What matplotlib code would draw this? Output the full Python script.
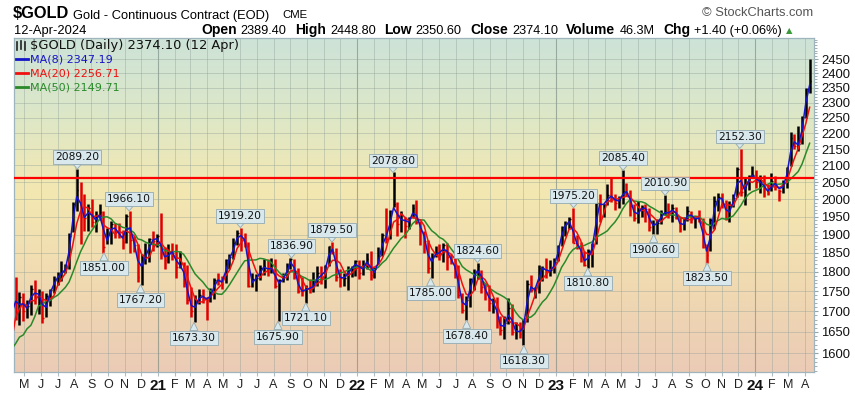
import numpy as np
import pandas as pd
import matplotlib
matplotlib.use("Agg")
import matplotlib.pyplot as plt
from matplotlib.colors import LinearSegmentedColormap
from matplotlib.lines import Line2D

# weekly bars (weeks ending Friday)
# 2020-02-07 .. 2020-12-25
high_2020 = [1580, 1588, 1653, 1691, 1690, 1704, 1560, 1690, 1650, 1753, 1788, 1748,
             1747, 1727, 1765, 1779, 1757, 1752, 1745, 1756, 1789, 1801, 1829, 1822,
             1905, 1993, 2089.2, 2049, 2015, 1986, 2001, 1966, 1985, 1965, 1917, 1937,
             1933, 1933, 1914, 1958, 1966.1, 1897, 1875, 1847, 1878, 1891, 1910]
low_2020 = [1551, 1562, 1583, 1563, 1574, 1504, 1451, 1482, 1576, 1643, 1680, 1666,
            1676, 1683, 1691, 1718, 1693, 1671, 1685, 1712, 1747, 1765, 1776, 1797,
            1808, 1906, 1966, 1874, 1911, 1911, 1921, 1906, 1940, 1851, 1873, 1874,
            1891, 1890, 1860, 1876, 1850, 1852, 1775, 1767.2, 1820, 1826, 1854]
close_2020 = [1573, 1584, 1649, 1566, 1672, 1529, 1484, 1654, 1637, 1752, 1698, 1736,
              1701, 1714, 1756, 1735, 1751, 1683, 1737, 1753, 1781, 1790, 1801, 1811,
              1897, 1986, 2028, 1949, 1947, 1975, 1934, 1947, 1962, 1866, 1900, 1930,
              1906, 1902, 1879, 1951, 1886, 1872, 1788, 1840, 1840, 1888, 1883]

# 2021-01-01 .. 2021-12-31
high_2021 = [1902, 1959, 1867, 1875, 1876, 1875, 1855, 1825, 1817, 1760, 1740, 1756,
             1755, 1735, 1759, 1785, 1798, 1790, 1834, 1846, 1890, 1913, 1919.2, 1903,
             1880, 1797, 1795, 1818, 1834, 1833, 1836, 1834, 1782, 1796, 1823, 1836.9,
             1834, 1809, 1787, 1767, 1782, 1801, 1815, 1815, 1818, 1870, 1879.5, 1863,
             1808, 1796, 1815, 1815, 1830]
low_2021 = [1866, 1834, 1808, 1823, 1831, 1785, 1810, 1760, 1717, 1687, 1673.3, 1718,
            1720, 1678, 1723, 1731, 1765, 1756, 1770, 1808, 1834, 1871, 1856, 1867,
            1761, 1760, 1750, 1780, 1792, 1789, 1796, 1758, 1675.9, 1774, 1779, 1808,
            1782, 1745, 1738, 1721.1, 1745, 1748, 1763, 1769, 1758, 1816, 1846, 1777,
            1761, 1764, 1753, 1787, 1790]
close_2021 = [1895, 1850, 1830, 1856, 1850, 1813, 1823, 1777, 1729, 1700, 1720, 1742,
              1733, 1729, 1744, 1780, 1778, 1769, 1831, 1838, 1876, 1903, 1892, 1879,
              1764, 1781, 1784, 1810, 1815, 1801, 1817, 1763, 1778, 1781, 1818, 1833,
              1788, 1751, 1750, 1758, 1757, 1768, 1796, 1784, 1817, 1868, 1852, 1788,
              1784, 1784, 1805, 1811, 1829]

# 2022-01-07 .. 2022-12-30
high_2022 = [1832, 1830, 1849, 1856, 1813, 1866, 1904, 1976, 1969, 2078.8, 1992, 1966,
             1948, 1948, 1986, 1998, 1937, 1910, 1885, 1849, 1870, 1874, 1877, 1877,
             1846, 1840, 1818, 1745, 1739, 1784, 1807, 1824.6, 1806, 1771, 1765, 1734,
             1735, 1688, 1688, 1734, 1717, 1674, 1675, 1681, 1780, 1791, 1760, 1818,
             1815, 1836, 1831, 1836]
low_2022 = [1782, 1792, 1808, 1780, 1785, 1820, 1842, 1878, 1889, 1978, 1895, 1906,
            1891, 1915, 1946, 1929, 1872, 1850, 1797, 1785, 1840, 1830, 1825, 1805,
            1822, 1785, 1732, 1696, 1678.4, 1711, 1754, 1782, 1747, 1728, 1700, 1697,
            1660, 1643, 1633, 1670, 1642, 1634, 1636, 1618.3, 1675, 1748, 1733, 1745,
            1776, 1784, 1789, 1796]
close_2022 = [1798, 1817, 1835, 1791, 1807, 1842, 1898, 1889, 1966, 1985, 1929, 1954,
              1924, 1945, 1974, 1934, 1911, 1882, 1811, 1842, 1851, 1850, 1871, 1840,
              1830, 1801, 1742, 1703, 1727, 1782, 1791, 1816, 1762, 1749, 1721, 1728,
              1677, 1655, 1672, 1709, 1649, 1656, 1645, 1676, 1769, 1754, 1754, 1809,
              1810, 1800, 1804, 1826]

# 2023-01-06 .. 2023-12-29
high_2023 = [1871, 1925, 1939, 1949, 1975.2, 1898, 1879, 1855, 1860, 1876, 1993, 2014,
             1987, 2044, 2064, 2015, 2010, 2085.4, 2048, 2027, 1986, 1996, 1984, 1985,
             1974, 1940, 1943, 1970, 2010.9, 1988, 1987, 1977, 1948, 1950, 1980, 1966,
             1949, 1968, 1947, 1874, 1947, 2009, 2019, 2017, 1999, 1995, 2014, 2095,
             2152.3, 2062, 2072, 2098]
low_2023 = [1829, 1868, 1896, 1916, 1876, 1861, 1825, 1815, 1810.8, 1813, 1875, 1934,
            1949, 1982, 1992, 1970, 1974, 1985, 2010, 1953, 1938, 1933, 1949, 1934,
            1911, 1900.6, 1902, 1930, 1956, 1946, 1934, 1944, 1906, 1912, 1937, 1931,
            1917, 1935, 1864, 1823.5, 1856, 1916, 1966, 1976, 1940, 1935, 1977, 2007,
            2010, 1983, 2028, 2061]
close_2023 = [1869, 1921, 1928, 1944, 1877, 1875, 1842, 1817, 1855, 1868, 1989, 1983,
              1986, 2011, 2007, 1990, 1999, 2025, 2019, 1981, 1946, 1969, 1977, 1971,
              1921, 1929, 1932, 1960, 1962, 1960, 1976, 1946, 1916, 1940, 1966, 1942,
              1946, 1945, 1866, 1845, 1941, 1994, 2006, 1999, 1942, 1984, 2002, 2089,
              2020, 2036, 2069, 2071]

# 2024-01-05 .. 2024-04-12
high_2024 = [2085, 2070, 2070, 2043, 2076, 2067, 2030, 2055, 2096, 2203, 2199, 2225,
             2257, 2349, 2448.8]
low_2024 = [2034, 2019, 2007, 2011, 2025, 2026, 1996, 2019, 2032, 2097, 2152, 2145,
            2165, 2248, 2331]
close_2024 = [2050, 2051, 2029, 2018, 2054, 2038, 2024, 2046, 2095, 2185, 2161, 2166,
              2254, 2345, 2374.1]

ma_windows = [2, 4, 10]          # weekly stand-ins for the 8/20/50 day averages
ma_labels = ["MA(8) 2347.19", "MA(20) 2256.71", "MA(50) 2149.71"]
ma_colors = ["#1414c8", "#f01010", "#2a8a2a"]

resistance = 2062

ann_dates = ["2020-08-06", "2020-11-09", "2020-09-24", "2020-11-30", "2021-03-08",
             "2021-06-01", "2021-08-09", "2021-09-03", "2021-09-29", "2021-11-16",
             "2022-03-08", "2022-05-16", "2022-07-21", "2022-08-10", "2022-11-03",
             "2023-02-02", "2023-02-28", "2023-05-04", "2023-06-29", "2023-07-20",
             "2023-10-05", "2023-12-04"]
ann_values = [2089.20, 1966.10, 1851.00, 1767.20, 1673.30,
              1919.20, 1675.90, 1836.90, 1721.10, 1879.50,
              2078.80, 1785.00, 1678.40, 1824.60, 1618.30,
              1975.20, 1810.80, 2085.40, 1900.60, 2010.90,
              1823.50, 2152.30]
ann_peak = [True, True, False, False, False,
            True, False, True, False, True,
            True, False, False, True, False,
            True, False, True, False, True,
            False, True]

yticks = list(range(1600, 2451, 50))

quote_labels = ["Open", "High", "Low", "Close", "Volume", "Chg"]
quote_values = ["2389.40", "2448.80", "2350.60", "2374.10", "46.3M", "+1.40 (+0.06%)"]

# ---------------------------------------------------------------
high = np.array(high_2020 + high_2021 + high_2022 + high_2023 + high_2024)
low = np.array(low_2020 + low_2021 + low_2022 + low_2023 + low_2024)
close = np.array(close_2020 + close_2021 + close_2022 + close_2023 + close_2024)
weeks = pd.date_range("2020-02-07", "2024-04-12", freq="W-FRI")
assert len(weeks) == len(close) == len(high) == len(low)
xdates = weeks - pd.Timedelta(days=2)

plt.rcParams["font.family"] = ["Liberation Sans", "DejaVu Sans"]

W, H = 855, 396
def fx(x):
    return x / W
def fy(y):
    return 1 - y / H

fig = plt.figure(figsize=(8.55, 3.96), dpi=100)
rect = [fx(14), fy(372), (814 - 14) / W, (372 - 38) / H]

# background gradient
bg = fig.add_axes(rect, zorder=0)
cmap = LinearSegmentedColormap.from_list("bg", [
    (0.0, "#cde3d8"), (0.22, "#dce7c8"), (0.45, "#f3e8b2"),
    (0.7, "#f1dcb1"), (1.0, "#ebcbb6")])
bg.imshow(np.linspace(0, 1, 256).reshape(-1, 1), aspect="auto", cmap=cmap,
          extent=[0, 1, 0, 1])
bg.axis("off")

ax = fig.add_axes(rect, zorder=1)
ax.set_facecolor("none")
ax.set_yscale("log")
ax.set_ylim(1557, 2526)
ax.set_xlim(pd.Timestamp("2020-04-12"), pd.Timestamp("2024-04-18"))

# grid
months = pd.date_range("2020-05-01", "2024-04-01", freq="MS")
for m in months:
    yearline = m.month == 1
    ax.axvline(m, color="#72847c" if yearline else "#8e9e96",
               alpha=0.6 if yearline else 0.45, lw=0.8 if yearline else 0.6, zorder=1)
for t in yticks:
    ax.axhline(t, color="#8e9e96", alpha=0.45, lw=0.6, zorder=1)

# price bars
up = np.r_[True, close[1:] >= close[:-1]]
bar_colors = np.where(up, "#000000", "#e00000")
ax.vlines(xdates, low, high, colors=bar_colors, lw=1.8, zorder=3)
ax.hlines(close, xdates, xdates + pd.Timedelta(days=3), colors=bar_colors, lw=1.0, zorder=3)

# moving averages
cs = pd.Series(close, index=xdates)
for w, c in zip(ma_windows[::-1], ma_colors[::-1]):
    ax.plot(cs.index, cs.rolling(w).mean(), color=c, lw=1.1, zorder=4)

ax.axhline(resistance, color="#ff0000", lw=1.6, zorder=5)

# value call-outs
box_fc, box_ec = "#d8e8ec", "#93aab2"
for d, v, pk in zip(ann_dates, ann_values, ann_peak):
    ax.annotate(f"{v:.2f}", xy=(pd.Timestamp(d), v),
                xytext=(0, 5 if pk else -7.5), textcoords="offset points",
                ha="center", va="bottom" if pk else "top",
                fontsize=7.7, family="DejaVu Sans", color="#111111",
                bbox=dict(boxstyle="square,pad=0.18", fc=box_fc, ec=box_ec, lw=0.6),
                arrowprops=dict(arrowstyle="wedge,tail_width=0.75", fc=box_fc, ec=box_ec,
                                lw=0.6, shrinkA=0, shrinkB=0),
                zorder=7)

# axes styling
for s in ax.spines.values():
    s.set_color("#9fb4bc")
    s.set_linewidth(0.9)
ax.yaxis.tick_right()
ax.set_yticks(yticks)
ax.set_yticklabels([str(t) for t in yticks])
ax.set_yticks(list(range(1560, 2521, 10)), minor=True)
ax.yaxis.set_minor_formatter(matplotlib.ticker.NullFormatter())
ax.tick_params(axis="y", which="major", length=3, color="#8fa4ac", pad=2,
               labelsize=9.4, labelcolor="#111111")
ax.tick_params(axis="y", which="minor", length=2, color="#8fa4ac")

ax.set_xticks(months)
xl = ["%02d" % (m.year % 100) if m.month == 1 else "JFMAMJJASOND"[m.month - 1] for m in months]
ax.set_xticklabels(xl)
ax.tick_params(axis="x", length=3, color="#b0bcc0", pad=2, labelsize=9, labelcolor="#222222")
for lab, m in zip(ax.get_xticklabels(), months):
    if m.month == 1:
        lab.set_fontweight("bold")
        lab.set_fontsize(11)
        lab.set_color("#111111")

# in-chart legend
fig.add_artist(Line2D([fx(17), fx(17)], [fy(42), fy(50)], color="#222", lw=1.2))
fig.add_artist(Line2D([fx(21), fx(21)], [fy(41), fy(49)], color="#222", lw=1.2))
fig.add_artist(Line2D([fx(25), fx(25)], [fy(42), fy(50)], color="#222", lw=1.2))
fig.text(fx(30), fy(45), "$GOLD (Daily) 2374.10 (12 Apr)", family="DejaVu Sans",
         fontsize=9.4, color="#111111", va="center", ha="left")
for i, (lab, c) in enumerate(zip(ma_labels, ma_colors)):
    yy = 59 + 14 * i
    fig.add_artist(Line2D([fx(16), fx(28)], [fy(yy), fy(yy)], color=c, lw=2.0))
    fig.text(fx(30), fy(yy), lab, family="DejaVu Sans", fontsize=8, color=c,
             va="center", ha="left")

# header
fig.text(fx(13), fy(18.5), "$GOLD", fontsize=11.8, fontweight="bold", va="baseline")
fig.text(fx(73), fy(18.5), "Gold - Continuous Contract (EOD)", fontsize=9.3, va="baseline")
fig.text(fx(282), fy(18.5), "CME", fontsize=8.2, va="baseline")
fig.text(fx(14), fy(34), "12-Apr-2024", fontsize=9.3, va="baseline")
fig.text(fx(813), fy(16), "\u00a9 StockCharts.com", fontsize=9.3, color="#555555",
         ha="right", va="baseline")

# quote line: bold label, then value, chained one after another
prev = fig.text(fx(201), fy(37), quote_labels[0], fontsize=10, fontweight="bold",
                va="bottom")
for i, (lab, val) in enumerate(zip(quote_labels, quote_values)):
    if i > 0:
        prev = ax.annotate(lab, xy=(1, 0), xycoords=prev, xytext=(6, 0),
                           textcoords="offset points", fontsize=10, fontweight="bold",
                           va="bottom", ha="left", annotation_clip=False)
    prev = ax.annotate(val, xy=(1, 0), xycoords=prev, xytext=(3, 0),
                       textcoords="offset points", fontsize=9.2,
                       va="bottom", ha="left", annotation_clip=False)
ax.annotate("\u25b2", xy=(1, 0), xycoords=prev, xytext=(3, 1.5),
            textcoords="offset points", family="DejaVu Sans", fontsize=6,
            color="#3a9a3a", va="bottom", ha="left", annotation_clip=False)

fig.savefig("out.png", dpi=100)
